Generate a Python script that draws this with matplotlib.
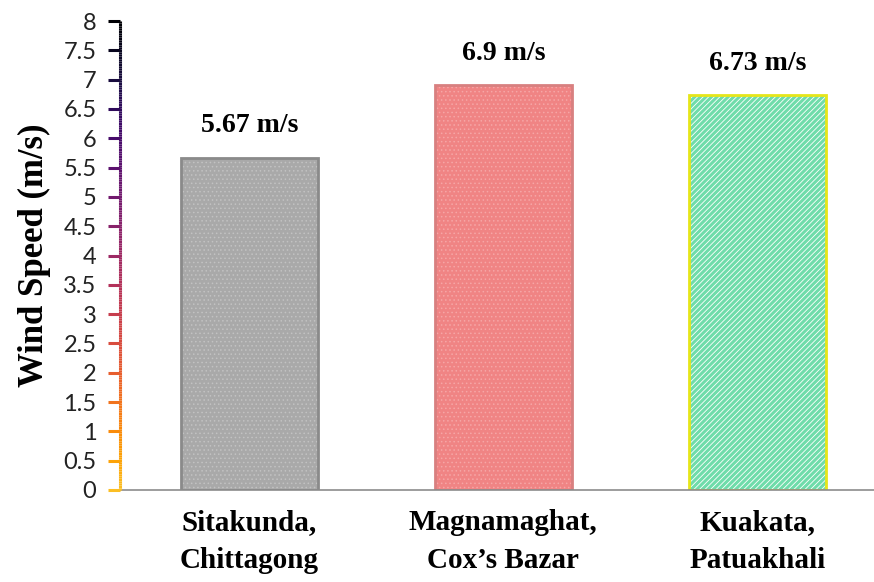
import matplotlib
matplotlib.use("Agg")
import matplotlib.pyplot as plt
import matplotlib.transforms as mtransforms
import numpy as np
from matplotlib.collections import LineCollection

categories = ["Sitakunda,\nChittagong", "Magnamaghat,\nCox\u2019s Bazar", "Kuakata,\nPatuakhali"]
values = [5.67, 6.9, 6.73]
value_labels = ["5.67 m/s", "6.9 m/s", "6.73 m/s"]
yticks = [0, 0.5, 1, 1.5, 2, 2.5, 3, 3.5, 4, 4.5, 5, 5.5, 6, 6.5, 7, 7.5, 8]
ytick_labels = ["0", "0.5", "1", "1.5", "2", "2.5", "3", "3.5", "4", "4.5", "5", "5.5", "6", "6.5", "7", "7.5", "8"]

face_colors = ["#a9a9a9", "#f08484", "#6fdcaa"]
edge_colors = ["#8a8a8a", "#d88080", "#e6e619"]
hatches = ["....", "....", "//////"]
hatch_colors = ["#c2c2c2", "#f6a6a6", "#ffffff"]

fig = plt.figure(figsize=(8.74, 5.82), dpi=100)
ax = fig.add_axes([120/874, 1-490/582, 1-120/874, (490-21)/582])

x = np.arange(len(categories))
bars = ax.bar(x, values, width=0.54, color=face_colors, edgecolor=edge_colors, linewidth=2.0, zorder=2)
for b, h, hc in zip(bars, hatches, hatch_colors):
    b.set_hatch(h)
    b._hatch_color = matplotlib.colors.to_rgba(hc)
    b.set_hatch_linewidth(0.6)

ax.set_xlim(-0.51, 2.46)
ax.set_ylim(0, 8)

for xi, v, lab in zip(x, values, value_labels):
    ax.annotate(lab, (xi, v), xytext=(0, 14), textcoords="offset points",
                ha="center", va="bottom", fontsize=20, fontweight="bold",
                family="Liberation Serif")

ax.set_xticks(x)
ax.set_xticklabels(categories, fontsize=21, fontweight="bold", family="Liberation Serif",
                   linespacing=1.5)
ax.tick_params(axis="x", length=0, pad=14)

ax.set_yticks(yticks)
ax.set_yticklabels(ytick_labels, fontsize=17, family="Lato", color="#222222")
ax.tick_params(axis="y", length=0, pad=17)

cmap = plt.get_cmap("inferno_r")
def grad(v):
    return cmap(0.15 + 0.85 * v / 8)

ax.set_ylabel("Wind Speed (m/s)", fontsize=25, fontweight="bold", family="Liberation Serif", labelpad=9)

for s in ["top", "right", "left"]:
    ax.spines[s].set_visible(False)
ax.spines["bottom"].set_color("#8c8c8c")
ax.spines["bottom"].set_linewidth(1.2)

# gradient y axis line
ys = np.linspace(0, 8, 200)
pts = np.array([np.full_like(ys, -0.51), ys]).T.reshape(-1, 1, 2)
segs = np.concatenate([pts[:-1], pts[1:]], axis=1)
lc = LineCollection(segs, colors=[grad(v) for v in ys[:-1]], linewidths=2.2,
                    transform=ax.transData, clip_on=False, zorder=3)
ax.add_collection(lc)

# coloured tick marks
tick_trans = mtransforms.blended_transform_factory(ax.transAxes, ax.transData)
tick_len = 12 / (874 * (1 - 120/874))
tsegs = [[(-tick_len, v), (0, v)] for v in yticks]
tlc = LineCollection(tsegs, colors=[grad(v) for v in yticks], linewidths=2.2,
                     transform=tick_trans, clip_on=False, zorder=3)
ax.add_collection(tlc)

fig.savefig("out.png", dpi=100)
